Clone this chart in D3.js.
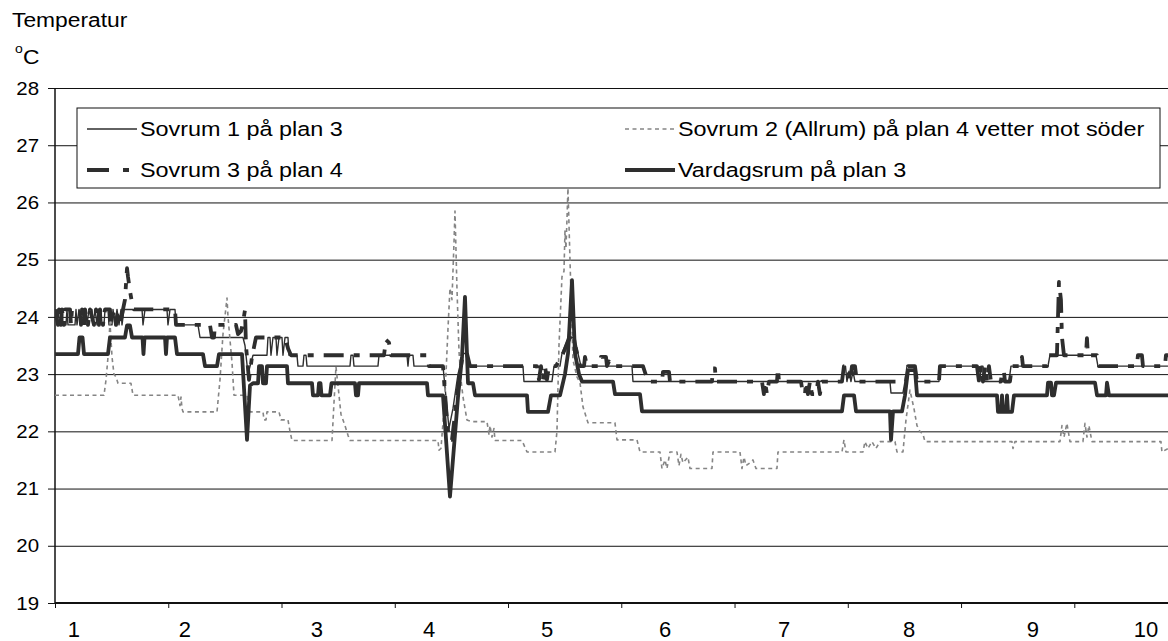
<!DOCTYPE html>
<html>
<head>
<meta charset="utf-8">
<script src="https://cdn.jsdelivr.net/npm/d3@7"></script>
<style>
  body { margin: 0; background: #fff; }
  svg text { font-family: "Liberation Sans", Arial, sans-serif; fill: #000; }
</style>
</head>
<body>
<svg id="chart" width="1168" height="641"></svg>
<script>
// Temperature logs, x = hours since start of measurement, y = °C
const sovrum1 = [[0,24.13],[0.42,23.86],[0.64,24.13],[1.06,23.86],[1.48,24.13],[1.70,23.86],[2.33,23.86],[2.54,24.13],[2.75,23.86],[4.24,23.86],[4.45,24.13],[4.66,23.86],[5.09,24.13],[5.51,23.86],[5.93,24.13],[6.57,24.13],[6.78,23.86],[7.20,24.13],[7.84,24.13],[8.05,23.86],[8.48,24.13],[8.90,23.86],[9.11,24.13],[9.75,24.13],[9.96,23.86],[10.38,23.86],[10.60,24.13],[11.23,24.13],[11.44,23.86],[12.08,23.86],[12.29,24.13],[12.71,23.86],[13.14,24.13],[13.56,23.86],[13.99,24.13],[14.20,23.86],[14.62,24.13],[18.44,24.13],[18.65,23.86],[19.07,24.13],[23.73,24.13],[23.94,23.86],[24.37,24.13],[25.43,24.13],[25.64,23.86],[30.30,23.86],[30.73,23.64],[39.84,23.64],[40.26,23.5],[40.90,23.0],[41.53,23.2],[41.96,23.33],[44.92,23.33],[45.13,23.64],[45.56,23.64],[45.77,23.33],[46.19,23.64],[46.83,23.64],[47.04,23.33],[47.47,23.64],[48.10,23.64],[48.31,23.33],[48.74,23.64],[49.37,23.64],[49.58,23.33],[51.28,23.33],[51.49,23.14],[52.55,23.14],[52.76,23.33],[53.19,23.33],[53.40,23.14],[62.51,23.14],[62.72,23.33],[63.15,23.33],[63.36,23.14],[68.44,23.14],[68.66,23.33],[74.59,23.33],[74.80,23.14],[75.01,23.33],[75.86,23.33],[76.07,23.14],[82.22,23.14],[83.49,22.05],[84.34,22.4],[85.40,23.0],[86.46,23.36],[87.09,23.36],[87.51,23.14],[99.17,23.14],[99.38,22.87],[105.31,22.87],[105.74,23.14],[107.01,23.14],[107.43,23.36],[108.70,23.64],[110.19,23.64],[110.82,23.36],[111.46,23.14],[122.27,23.14],[122.48,22.87],[166.77,22.87],[167.08,23.14],[167.51,23.14],[167.82,22.87],[168.25,23.05],[168.67,22.87],[169.10,23.05],[169.52,22.87],[176.94,22.87],[177.15,22.67],[179.69,22.67],[180.12,22.87],[180.54,23.14],[182.23,23.14],[182.66,22.87],[187.32,22.87],[187.53,23.14],[195.37,23.14],[195.58,22.87],[196.01,22.87],[196.22,23.14],[196.64,23.14],[196.86,22.87],[202.15,22.87],[202.58,23.14],[210.42,23.14],[210.84,23.33],[220.59,23.33],[221.01,23.14],[235.85,23.14]];

const sovrum2 = [[0,22.63],[10.38,22.63],[10.81,22.9],[11.23,23.3],[11.65,23.9],[12.08,23.3],[12.50,23.0],[12.93,22.95],[13.35,22.84],[16.10,22.84],[16.53,22.63],[26.06,22.63],[26.49,22.45],[26.70,22.6],[26.91,22.4],[27.12,22.34],[34.33,22.34],[34.96,22.9],[35.60,23.7],[36.45,24.33],[36.66,24.0],[37.51,23.2],[37.93,22.63],[40.68,22.63],[41.32,22.34],[44.08,22.34],[44.29,22.2],[44.71,22.2],[44.92,22.34],[47.47,22.34],[47.89,22.2],[49.37,22.2],[49.80,22.0],[50.22,21.84],[58.70,21.84],[59.12,22.5],[59.54,23.13],[59.97,22.8],[60.60,22.3],[61.45,22.1],[62.09,21.93],[62.51,21.84],[81.16,21.84],[81.37,21.67],[81.79,21.7],[82.64,22.6],[83.28,23.8],[83.70,24.5],[84.12,24.3],[84.55,25.3],[84.76,25.85],[85.18,24.5],[85.61,23.4],[86.03,22.9],[86.46,22.6],[87.30,22.2],[88.36,22.17],[91.54,22.17],[91.96,21.95],[92.18,22.1],[92.60,21.9],[93.02,22.05],[93.24,21.84],[98.96,21.84],[100.02,21.64],[105.95,21.64],[106.37,22.0],[106.80,23.5],[107.43,24.7],[107.86,24.8],[108.07,25.5],[108.28,25.2],[108.49,25.7],[108.70,26.25],[109.13,25.0],[109.76,23.25],[110.61,22.95],[111.25,22.85],[111.88,22.43],[112.94,22.15],[118.66,22.15],[119.09,21.85],[123.33,21.85],[123.96,21.64],[128.20,21.64],[128.62,21.35],[129.26,21.5],[129.68,21.35],[130.32,21.64],[131.80,21.64],[132.23,21.4],[132.65,21.6],[133.07,21.45],[134.13,21.55],[134.56,21.35],[139.22,21.35],[139.43,21.64],[145.15,21.64],[145.58,21.35],[146.00,21.55],[146.43,21.4],[147.27,21.45],[147.91,21.5],[148.54,21.35],[152.99,21.35],[153.20,21.64],[166.77,21.64],[167.19,21.85],[167.61,21.64],[171.22,21.64],[171.64,21.82],[172.27,21.7],[173.12,21.82],[173.97,21.7],[174.82,21.82],[178.00,21.82],[178.42,21.64],[179.69,21.64],[180.33,22.2],[181.17,22.72],[182.02,22.4],[182.66,22.1],[183.29,22.0],[183.93,21.95],[184.35,21.82],[202.79,21.82],[203.00,21.7],[203.42,21.82],[212.96,21.82],[213.38,22.1],[213.81,21.9],[214.44,22.14],[215.08,21.82],[217.83,21.82],[218.26,22.14],[218.68,21.9],[219.10,22.1],[219.74,21.82],[234.36,21.82],[234.57,21.64],[235.85,21.7]];

const sovrum3 = [[0,24.13],[0.64,23.86],[0.85,24.13],[1.27,23.86],[1.48,24.13],[1.91,23.86],[2.12,24.13],[3.18,24.13],[3.39,23.86],[3.60,24.13],[5.30,24.13],[5.51,23.86],[5.72,24.13],[6.15,23.86],[6.36,24.13],[6.99,23.86],[7.42,24.13],[8.26,23.86],[8.69,24.13],[9.32,23.86],[9.54,24.13],[10.17,23.86],[10.60,24.13],[11.65,24.13],[11.87,23.86],[12.50,24.13],[12.93,23.86],[13.35,24.13],[13.77,23.86],[14.41,24.13],[14.83,24.3],[15.26,24.85],[15.47,24.7],[15.89,24.45],[16.32,24.25],[16.74,24.13],[25.43,24.13],[25.64,23.86],[32.84,23.86],[33.27,23.64],[33.69,23.64],[33.90,23.86],[38.35,23.86],[38.78,23.7],[39.41,23.75],[39.84,23.9],[40.26,24.12],[40.47,23.5],[41.11,22.9],[41.74,23.3],[42.59,23.64],[48.74,23.64],[49.37,23.45],[50.01,23.33],[69.72,23.33],[70.14,23.6],[70.77,23.55],[71.20,23.33],[78.83,23.33],[79.25,23.14],[82.22,23.14],[83.06,22.2],[83.49,21.85],[84.12,21.85],[84.76,22.3],[85.40,22.75],[86.03,23.14],[86.46,23.36],[87.30,23.36],[87.94,23.14],[102.14,23.14],[102.56,22.9],[102.98,23.14],[103.41,22.9],[103.83,23.14],[104.25,22.9],[104.68,23.14],[106.16,23.14],[107.65,23.36],[109.13,23.64],[110.40,23.45],[111.25,23.14],[112.10,23.14],[112.31,23.3],[112.73,23.14],[115.27,23.14],[115.70,23.3],[116.76,23.3],[116.97,23.14],[117.39,23.22],[117.82,23.14],[124.60,23.14],[125.66,22.87],[128.62,22.87],[128.84,23.04],[130.11,23.04],[130.32,22.87],[139.22,22.87],[139.43,23.1],[139.85,23.1],[140.06,22.87],[149.81,22.87],[150.23,22.65],[150.45,22.87],[150.87,22.65],[151.29,22.87],[152.99,22.87],[153.20,23.1],[153.42,22.87],[158.08,22.87],[158.50,22.65],[158.93,22.65],[159.14,22.87],[159.56,22.65],[159.98,22.87],[160.41,22.65],[161.26,22.65],[161.68,22.87],[162.10,22.65],[162.53,22.87],[166.77,22.87],[167.19,23.14],[168.04,23.14],[168.46,22.87],[168.89,23.14],[169.52,23.14],[169.94,22.87],[180.33,22.87],[180.76,23.14],[182.23,23.14],[182.66,22.87],[187.32,22.87],[187.53,23.14],[195.37,23.14],[195.80,22.87],[196.22,23.14],[196.64,22.87],[197.07,23.14],[197.49,22.87],[197.91,23.14],[198.34,22.87],[200.45,22.87],[200.67,23.05],[201.09,23.05],[201.31,22.87],[202.36,22.87],[202.79,23.14],[204.70,23.14],[204.91,23.3],[205.12,23.14],[210.20,23.14],[210.63,23.33],[212.32,23.33],[212.75,24.61],[213.17,24.3],[213.38,23.65],[213.81,23.33],[218.47,23.33],[218.68,23.63],[218.89,23.33],[220.80,23.33],[221.22,23.14],[229.27,23.14],[229.48,23.33],[230.33,23.33],[230.55,23.14],[235.21,23.14],[235.42,23.33],[235.85,23.33]];

const vardagsrum = [[0,23.35],[4.87,23.35],[5.19,23.64],[5.83,23.64],[6.15,23.35],[11.23,23.35],[11.65,23.64],[14.83,23.64],[15.26,23.85],[15.89,23.85],[16.32,23.64],[18.54,23.64],[18.75,23.35],[18.97,23.64],[23.31,23.64],[23.52,23.35],[23.73,23.64],[25.43,23.64],[25.85,23.35],[31.36,23.35],[31.79,23.14],[34.33,23.14],[34.75,23.35],[39.63,23.35],[40.69,21.85],[41.32,22.8],[41.96,22.84],[43.02,22.84],[43.23,23.14],[43.86,23.14],[44.08,22.84],[44.71,22.84],[44.92,23.14],[49.16,23.14],[49.37,22.84],[54.46,22.84],[54.67,22.63],[55.73,22.63],[55.94,22.84],[56.26,22.84],[56.47,22.63],[58.28,22.63],[58.59,22.84],[63.57,22.84],[63.78,22.63],[64.21,22.63],[64.42,22.84],[78.83,22.84],[79.04,22.63],[82.22,22.63],[83.70,20.86],[85.40,22.6],[86.25,23.3],[86.88,24.35],[87.52,22.84],[88.58,22.84],[89.00,22.63],[100.02,22.63],[100.23,22.34],[104.47,22.34],[105.11,22.63],[107.02,22.63],[108.07,23.0],[108.71,23.36],[109.56,24.64],[110.19,23.36],[111.04,23.0],[111.68,22.87],[118.25,22.87],[118.67,22.65],[123.97,22.65],[124.39,22.35],[166.77,22.35],[167.20,22.63],[169.32,22.63],[169.74,22.35],[176.94,22.35],[177.16,21.85],[177.58,22.35],[179.49,22.35],[180.12,22.63],[180.76,23.07],[182.25,23.07],[182.67,22.63],[199.62,22.63],[199.83,22.34],[200.47,22.34],[200.68,22.63],[200.89,22.34],[201.53,22.34],[201.74,22.63],[201.95,22.34],[202.80,22.34],[203.22,22.63],[210.21,22.63],[210.43,22.85],[211.06,22.85],[211.27,22.63],[211.70,22.63],[212.12,22.85],[220.39,22.85],[220.81,22.63],[222.72,22.63],[222.93,22.85],[223.35,22.63],[235.90,22.63]];

const seriesNames = ["Sovrum 1 på plan 3", "Sovrum 2 (Allrum) på plan 4 vetter mot söder", "Sovrum 3 på plan 4", "Vardagsrum på plan 3"];
const yTicks = [19, 20, 21, 22, 23, 24, 25, 26, 27, 28];
const xTickHours = [0, 24, 48, 72, 96, 120, 144, 168, 192, 216];
const dayLabels = ["1", "2", "3", "4", "5", "6", "7", "8", "9", "10"];
const dayLabelHours = [4.0, 27.5, 55.5, 79.3, 104.3, 129.3, 154.5, 181.0, 207.2, 231.2];

(function draw() {
  const svg = d3.select("#chart");
  const plotLeft = 55, plotTop = 88, plotBottom = 603, plotRight = 1168;
  const textStretch = 1.17;
  const legendStretch = 1.2;

  const x = d3.scaleLinear().domain([0, 236]).range([plotLeft, plotLeft + 236 * 4.719]);
  const y = d3.scaleLinear().domain([19, 28]).range([plotBottom, plotTop]);

  // horizontal gridlines
  svg.append("g")
    .attr("transform", `translate(${plotLeft},0)`)
    .call(d3.axisLeft(y).tickValues(yTicks.slice(1)).tickSize(-(plotRight - plotLeft)).tickFormat(""))
    .call(g => g.select(".domain").remove())
    .call(g => g.selectAll("line").attr("stroke", "#111").attr("stroke-width", 1));

  // y axis with ticks and labels
  const yAxis = svg.append("g")
    .attr("transform", `translate(${plotLeft},0)`)
    .call(d3.axisLeft(y).tickValues(yTicks).tickSize(7).tickFormat(d3.format("d")));
  yAxis.select(".domain").remove();
  yAxis.selectAll("line").attr("stroke", "#111");
  yAxis.selectAll("text")
    .attr("x", -16 / textStretch)
    .attr("dy", "0.35em")
    .attr("transform", `scale(${textStretch},1)`)
    .style("font-size", "17.5px")
    .style("font-family", "'Liberation Sans', Arial, sans-serif")
    .attr("fill", "#000");
  svg.append("line").attr("x1", plotLeft).attr("x2", plotLeft).attr("y1", plotTop).attr("y2", plotBottom)
    .attr("stroke", "#111").attr("stroke-width", 1.5);

  // x axis
  const xAxis = svg.append("g")
    .attr("transform", `translate(0,${plotBottom})`)
    .call(d3.axisBottom(x).tickValues(xTickHours).tickSize(5).tickFormat("").tickSizeOuter(0));
  xAxis.select(".domain").attr("d", `M${plotLeft},0H${plotRight}`).attr("stroke", "#111").attr("stroke-width", 2.2);
  xAxis.selectAll(".tick line").attr("stroke", "#111");

  svg.append("g").selectAll("text")
    .data(dayLabels)
    .join("text")
    .attr("x", (d, i) => x(dayLabelHours[i]))
    .attr("y", 636.5)
    .attr("text-anchor", "middle")
    .style("font-size", "22px")
    .text(d => d);

  // series
  const line = d3.line().x(d => x(d[0])).y(d => y(d[1]));
  const styles = [
    { data: sovrum1, color: "#2e2e2e", width: 1.4, dash: null },
    { data: sovrum2, color: "#858585", width: 1.6, dash: "4,3.5" },
    { data: sovrum3, color: "#2e2e2e", width: 3.8, dash: "20,10,6,10" },
    { data: vardagsrum, color: "#2e2e2e", width: 3.8, dash: null }
  ];
  svg.append("defs").append("clipPath").attr("id", "plotClip")
    .append("rect").attr("x", plotLeft).attr("y", plotTop - 10)
    .attr("width", plotRight - plotLeft).attr("height", plotBottom - plotTop + 10);
  const plot = svg.append("g").attr("clip-path", "url(#plotClip)");
  styles.forEach(s => {
    plot.append("path")
      .datum(s.data)
      .attr("d", line)
      .attr("fill", "none")
      .attr("stroke", s.color)
      .attr("stroke-width", s.width)
      .attr("stroke-linejoin", "round")
      .attr("stroke-dasharray", s.dash);
  });

  // legend
  const legend = svg.append("g");
  legend.append("rect").attr("x", 77).attr("y", 108).attr("width", 1083).attr("height", 80)
    .attr("fill", "#fff").attr("stroke", "#111").attr("stroke-width", 1);
  const legendPos = [
    { sx: 87, row: 129 },
    { sx: 625, row: 129 },
    { sx: 87, row: 170 },
    { sx: 625, row: 170 }
  ];
  styles.forEach((s, i) => {
    const p = legendPos[i];
    legend.append("line")
      .attr("x1", p.sx).attr("x2", p.sx + 50).attr("y1", p.row).attr("y2", p.row)
      .attr("stroke", s.color).attr("stroke-width", s.width)
      .attr("stroke-dasharray", i === 2 ? "22,14,6,20" : s.dash);
    legend.append("text")
      .attr("transform", `translate(${p.sx + 53},${p.row}) scale(${legendStretch},1)`)
      .attr("dy", "0.35em")
      .style("font-size", "19.5px")
      .text(seriesNames[i]);
  });

  // axis title
  svg.append("text").attr("transform", `translate(12,27) scale(${textStretch},1)`)
    .style("font-size", "19.5px").text("Temperatur");
  svg.append("text").attr("transform", `translate(15,53) scale(${textStretch},1)`)
    .style("font-size", "12px").text("o");
  svg.append("text").attr("transform", `translate(23,64) scale(${textStretch},1)`)
    .style("font-size", "19.5px").text("C");
})();
</script>
</body>
</html>
